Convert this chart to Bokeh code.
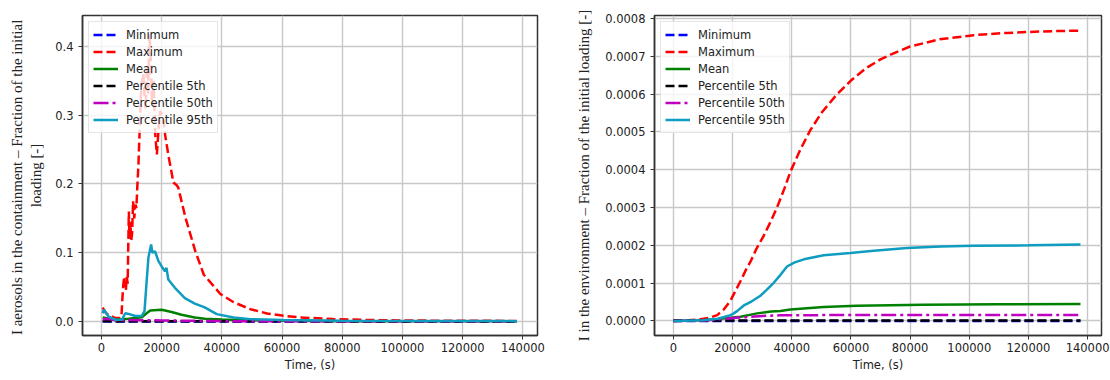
from bokeh.plotting import figure
from bokeh.layouts import row
from bokeh.models import Range1d, FixedTicker, PrintfTickFormatter, Legend, LegendItem
from bokeh.embed import file_html
from bokeh.resources import INLINE

# ---------------- Left panel: I aerosols in the containment ----------------
c_min_t = [400, 138000]
c_min_v = [0.0, 0.0]

c_max_t = [400, 1500, 3000, 4600, 6300, 6700, 6900, 7200, 7500, 7800, 8100, 8400, 8700,
           8900, 9100, 9300, 9600, 9900, 10200, 10500, 10900, 11300, 11600, 11900, 12300,
           12700, 13100, 13500, 13900, 14300, 14700, 15100, 15500, 15900, 16300, 16800,
           17300, 17900, 18400, 19000, 19500, 20400, 21200, 22300, 23900, 25000, 25500,
           27900, 31200, 34000, 39500, 43900, 49400, 55000, 60500, 66000, 77000, 90000,
           105000, 120000, 138000]
c_max_v = [0.020, 0.012, 0.008, 0.005, 0.005, 0.012, 0.030, 0.050, 0.065, 0.055, 0.045,
           0.065, 0.055, 0.110, 0.160, 0.120, 0.145, 0.118, 0.130, 0.175, 0.150, 0.170,
           0.165, 0.195, 0.230, 0.280, 0.330, 0.350, 0.360, 0.330, 0.310, 0.370, 0.330,
           0.418, 0.390, 0.320, 0.350, 0.270, 0.243, 0.282, 0.306, 0.300, 0.270, 0.240,
           0.202, 0.198, 0.195, 0.151, 0.102, 0.068, 0.040, 0.028, 0.018, 0.0117, 0.0083,
           0.0058, 0.0035, 0.0020, 0.0013, 0.0010, 0.0008]

c_mean_t = [400, 2400, 4600, 9000, 13400, 15000, 16200, 20000, 23300, 26600, 31000, 34300,
            40000, 45000, 60000, 80000, 110000, 138000]
c_mean_v = [0.006, 0.004, 0.0025, 0.004, 0.006, 0.012, 0.016, 0.017, 0.0137, 0.0098, 0.0059,
            0.004, 0.0028, 0.002, 0.001, 0.0005, 0.0003, 0.0002]

c_p5_t = [400, 3000, 20000, 138000]
c_p5_v = [0.0006, 0.0003, 0.0002, 0.0001]

c_p50_t = [400, 2000, 5000, 9000, 20000, 40000, 138000]
c_p50_v = [0.003, 0.004, 0.0015, 0.002, 0.0015, 0.0005, 0.0002]

c_p95_t = [400, 800, 2400, 4600, 6800, 7900, 9000, 11200, 13400, 14300, 15000, 15600, 16500,
           16900, 17800, 18900, 20000, 21100, 21600, 22200, 24400, 27700, 31000, 34300,
           38300, 43900, 49400, 60500, 80000, 110000, 138000]
c_p95_v = [0.012, 0.017, 0.007, 0.0025, 0.0025, 0.012, 0.011, 0.008, 0.008, 0.015, 0.058,
           0.093, 0.112, 0.100, 0.102, 0.088, 0.080, 0.073, 0.078, 0.061, 0.049, 0.034,
           0.026, 0.0205, 0.0107, 0.0058, 0.0034, 0.002, 0.001, 0.0007, 0.0005]

# ---------------- Right panel: I in the environment ----------------
e_min_t = [0, 137600]
e_min_v = [0.0, 0.0]

e_max_t = [0, 5000, 9100, 12000, 14800, 17000, 19300, 21000, 22650, 24500, 26000, 28000,
           30500, 33000, 35000, 37500, 39600, 43000, 46300, 50000, 55000, 60000, 65000,
           70000, 75000, 80000, 90000, 101500, 112800, 125000, 137600]
e_max_v = [0.0, 0.000002, 0.0000044, 0.000008, 0.0000154, 0.000030, 0.000054, 0.000080,
           0.000105, 0.000135, 0.000156, 0.000190, 0.000225, 0.000265, 0.000300, 0.000350,
           0.000396, 0.000455, 0.000505, 0.000550, 0.000597, 0.000636, 0.000668, 0.000692,
           0.000710, 0.000726, 0.000745, 0.000756, 0.000762, 0.000766, 0.000768]

e_mean_t = [0, 10000, 15000, 22700, 28300, 33000, 36200, 39500, 50800, 62000, 84600, 110000, 137600]
e_mean_v = [0.0, 0.000002, 0.000005, 0.000011, 0.000020, 0.000025, 0.0000266, 0.000030,
            0.000037, 0.000040, 0.000043, 0.000044, 0.000045]

e_p5_t = [0, 137600]
e_p5_v = [0.000001, 0.000001]

e_p50_t = [0, 10000, 15000, 22000, 30000, 36000, 45000, 80000, 137600]
e_p50_v = [0.0, 0.000001, 0.000004, 0.000009, 0.000013, 0.0000150, 0.0000153, 0.000016, 0.000016]

e_p95_t = [0, 10000, 15000, 19300, 20400, 21500, 23800, 26500, 29400, 31500, 33900, 36200,
           38400, 41000, 44100, 50800, 59800, 67700, 79000, 90300, 101500, 120000, 137600]
e_p95_v = [0.0, 0.000002, 0.000006, 0.0000154, 0.000020, 0.000026, 0.000041, 0.000052,
           0.0000667, 0.000082, 0.000101, 0.000122, 0.000144, 0.000155, 0.000163, 0.000174,
           0.000180, 0.000186, 0.000193, 0.000197, 0.000199, 0.000200, 0.000202]

x_ticks = [0, 20000, 40000, 60000, 80000, 100000, 120000, 140000]
c_y_ticks = [0.0, 0.1, 0.2, 0.3, 0.4]
e_y_ticks = [0.0, 0.0001, 0.0002, 0.0003, 0.0004, 0.0005, 0.0006, 0.0007, 0.0008]

labels = ["Minimum", "Maximum", "Mean", "Percentile 5th", "Percentile 50th", "Percentile 95th"]
colors = ["#0000ff", "#ff0000", "#008000", "#000000", "#bf00bf", "#0e9cc0"]
dashes = ["9 4", "9 4", "solid", "9 4", "15 4 3 4", "solid"]

TICK_FONT = "DejaVu Sans"
TICK_SIZE = "11.5px"


def make_fig(width, borders, xr, yr, yticks, yfmt, ylabel, ylabel_standoff, series):
    left, right, top, bottom = borders
    p = figure(width=width, height=380, output_backend="svg", toolbar_location=None,
               x_range=Range1d(*xr), y_range=Range1d(*yr),
               min_border_left=left, min_border_right=right,
               min_border_top=top, min_border_bottom=bottom)
    p.background_fill_color = "white"
    p.border_fill_color = "white"
    p.outline_line_color = "#333333"
    p.outline_line_width = 1.5
    p.xaxis.ticker = FixedTicker(ticks=x_ticks)
    p.yaxis.ticker = FixedTicker(ticks=yticks)
    p.xaxis.formatter = PrintfTickFormatter(format="%d")
    p.yaxis.formatter = PrintfTickFormatter(format=yfmt)
    for ax in (p.xaxis, p.yaxis):
        ax.axis_line_color = "#333333"
        ax.axis_line_width = 1.5
        ax.major_tick_line_color = "#333333"
        ax.major_tick_out = 4
        ax.major_tick_in = 0
        ax.minor_tick_line_color = None
        ax.major_label_text_font = TICK_FONT
        ax.major_label_text_font_size = TICK_SIZE
        ax.major_label_text_color = "#222222"
    p.xaxis.major_label_standoff = 3
    p.yaxis.major_label_standoff = 5
    p.xaxis.axis_label = "Time, (s)"
    p.xaxis.axis_label_text_font = TICK_FONT
    p.xaxis.axis_label_text_font_size = TICK_SIZE
    p.xaxis.axis_label_text_font_style = "normal"
    p.xaxis.axis_label_text_color = "#222222"
    p.xaxis.axis_label_standoff = 3
    p.yaxis.axis_label = ylabel
    p.yaxis.axis_label_text_font = "Liberation Serif"
    p.yaxis.axis_label_text_font_size = "15px"
    p.yaxis.axis_label_text_font_style = "normal"
    p.yaxis.axis_label_text_color = "#222222"
    p.yaxis.axis_label_standoff = ylabel_standoff
    p.grid.grid_line_color = "#c8c8c8"
    p.grid.grid_line_width = 1.4

    items = []
    for (t, v), lab, col, dash in zip(series, labels, colors, dashes):
        r = p.line(t, v, line_color=col, line_width=2.5, line_dash=dash)
        items.append(LegendItem(label=lab, renderers=[r]))
    leg = Legend(items=items, location="top_left", margin=6, padding=4, spacing=0,
                 label_height=17, glyph_height=17, glyph_width=25, label_standoff=8,
                 label_text_font=TICK_FONT, label_text_font_size=TICK_SIZE,
                 label_text_color="#222222",
                 border_line_color="#cccccc", border_line_width=1,
                 background_fill_color="white", background_fill_alpha=0.8)
    p.add_layout(leg)
    return p


left_series = [(c_min_t, c_min_v), (c_max_t, c_max_v), (c_mean_t, c_mean_v),
               (c_p5_t, c_p5_v), (c_p50_t, c_p50_v), (c_p95_t, c_p95_v)]
right_series = [(e_min_t, e_min_v), (e_max_t, e_max_v), (e_mean_t, e_mean_v),
                (e_p5_t, e_p5_v), (e_p50_t, e_p50_v), (e_p95_t, e_p95_v)]

p1 = make_fig(550, (82, 13, 15, 45), (-6300, 144850), (-0.0204, 0.445), c_y_ticks, "%.1f",
              "I aerosols  in the containment \u2013 Fraction of the initial\nloading [-]", 8,
              left_series)
p2 = make_fig(560, (104, 9, 13, 37), (-6400, 144700), (-0.0000385, 0.000808), e_y_ticks, "%.4f",
              "I in the environment \u2013 Fraction of the initial loading [-]", 10,
              right_series)

layout = row(p1, p2)
open("out.html", "w").write(file_html(layout, INLINE))
